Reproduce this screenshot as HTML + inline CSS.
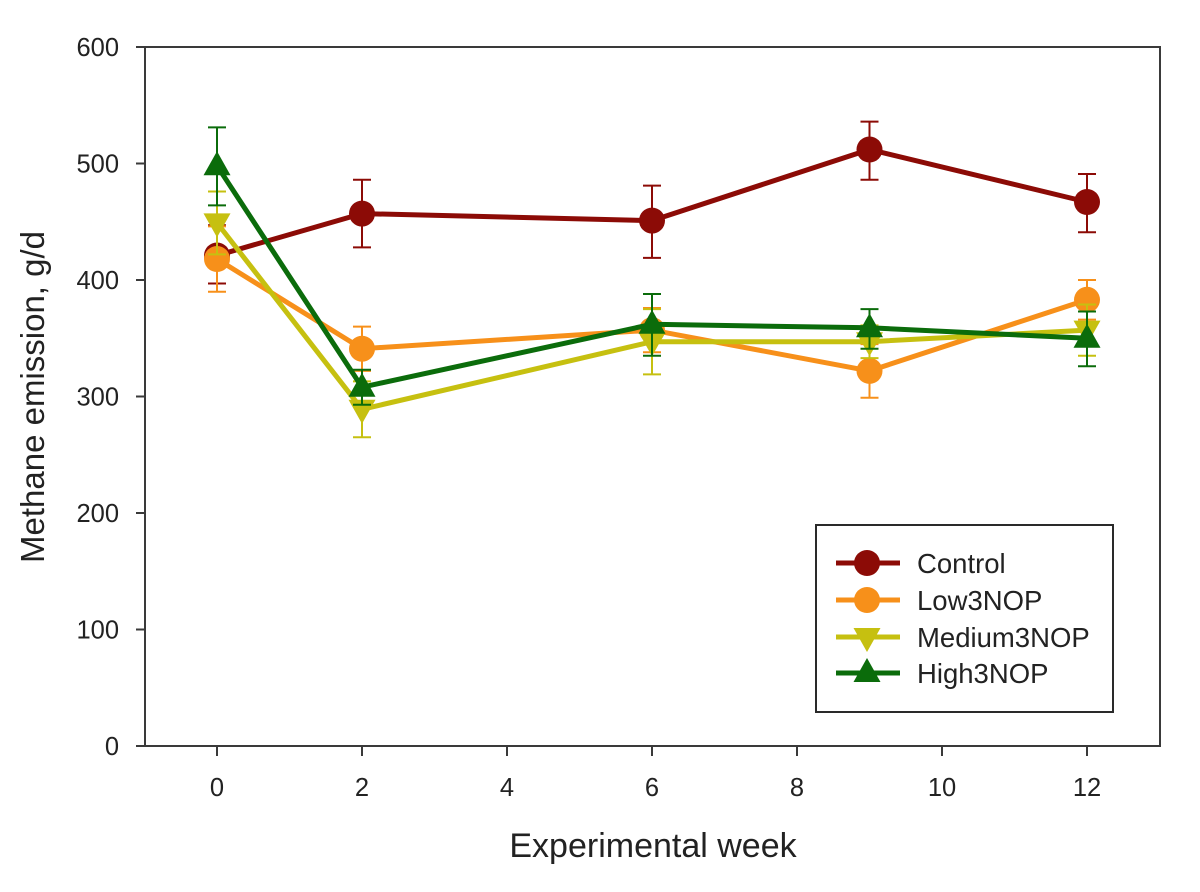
<!DOCTYPE html>
<html><head><meta charset="utf-8"><style>
html,body{margin:0;padding:0;background:#fff;}
svg{display:block;}
text{font-family:"Liberation Sans",Arial,sans-serif;fill:#222;}
</style></head><body>
<svg width="1200" height="892" viewBox="0 0 1200 892" xmlns="http://www.w3.org/2000/svg">
<rect x="0" y="0" width="1200" height="892" fill="#fff"/>
<!-- frame -->
<rect x="145" y="47" width="1015" height="699" fill="none" stroke="#3a3a3a" stroke-width="2"/>
<!-- ticks -->
<g stroke="#3a3a3a" stroke-width="2">
<line x1="136" y1="746" x2="145" y2="746"/><line x1="136" y1="629.5" x2="145" y2="629.5"/>
<line x1="136" y1="513" x2="145" y2="513"/><line x1="136" y1="396.5" x2="145" y2="396.5"/>
<line x1="136" y1="280" x2="145" y2="280"/><line x1="136" y1="163.5" x2="145" y2="163.5"/>
<line x1="136" y1="47" x2="145" y2="47"/>
<line x1="217" y1="746" x2="217" y2="756"/><line x1="362" y1="746" x2="362" y2="756"/>
<line x1="507" y1="746" x2="507" y2="756"/><line x1="652" y1="746" x2="652" y2="756"/>
<line x1="797" y1="746" x2="797" y2="756"/><line x1="942" y1="746" x2="942" y2="756"/>
<line x1="1087" y1="746" x2="1087" y2="756"/>
</g>
<g font-size="25.5" text-anchor="end">
<text x="119" y="755">0</text><text x="119" y="638.5">100</text><text x="119" y="522">200</text>
<text x="119" y="405.5">300</text><text x="119" y="289">400</text><text x="119" y="172.5">500</text>
<text x="119" y="56">600</text>
</g>
<g font-size="25.5" text-anchor="middle">
<text x="217" y="796">0</text><text x="362" y="796">2</text><text x="507" y="796">4</text>
<text x="652" y="796">6</text><text x="797" y="796">8</text><text x="942" y="796">10</text>
<text x="1087" y="796">12</text>
</g>
<text x="653" y="857" font-size="34" text-anchor="middle">Experimental week</text>
<text transform="translate(44,397) rotate(-90)" font-size="33" text-anchor="middle">Methane emission, g/d</text>

<!-- Control -->
<g stroke="#8c0b06" fill="#8c0b06">
<g stroke-width="2">
<line x1="217" y1="225.3" x2="217" y2="283.5"/><line x1="208" y1="283.5" x2="226" y2="283.5"/><line x1="208" y1="225.3" x2="226" y2="225.3"/>
<line x1="362" y1="179.8" x2="362" y2="247.4"/><line x1="353" y1="179.8" x2="371" y2="179.8"/><line x1="353" y1="247.4" x2="371" y2="247.4"/>
<line x1="652" y1="185.6" x2="652" y2="257.9"/><line x1="643" y1="185.6" x2="661" y2="185.6"/><line x1="643" y1="257.9" x2="661" y2="257.9"/>
<line x1="869.5" y1="121.6" x2="869.5" y2="179.8"/><line x1="860.5" y1="121.6" x2="878.5" y2="121.6"/><line x1="860.5" y1="179.8" x2="878.5" y2="179.8"/>
<line x1="1087" y1="174" x2="1087" y2="232.2"/><line x1="1078" y1="174" x2="1096" y2="174"/><line x1="1078" y1="232.2" x2="1096" y2="232.2"/>
</g>
<polyline fill="none" stroke-width="5" points="217,255.5 362,213.6 652,220.6 869.5,149.5 1087,202"/>
<g stroke="none"><circle cx="217" cy="255.5" r="13"/><circle cx="362" cy="213.6" r="13"/><circle cx="652" cy="220.6" r="13"/><circle cx="869.5" cy="149.5" r="13"/><circle cx="1087" cy="202" r="13"/></g>
</g>

<!-- Low3NOP -->
<g stroke="#f7901a" fill="#f7901a">
<g stroke-width="2">
<line x1="217" y1="226.4" x2="217" y2="291.7"/><line x1="208" y1="291.7" x2="226" y2="291.7"/><line x1="208" y1="226.4" x2="226" y2="226.4"/>
<line x1="362" y1="326.6" x2="362" y2="370.9"/><line x1="353" y1="326.6" x2="371" y2="326.6"/><line x1="353" y1="370.9" x2="371" y2="370.9"/>
<line x1="652" y1="308" x2="652" y2="352.2"/><line x1="643" y1="308" x2="661" y2="308"/><line x1="643" y1="352.2" x2="661" y2="352.2"/>
<line x1="869.5" y1="344.1" x2="869.5" y2="397.7"/><line x1="860.5" y1="344.1" x2="878.5" y2="344.1"/><line x1="860.5" y1="397.7" x2="878.5" y2="397.7"/>
<line x1="1087" y1="280" x2="1087" y2="319.6"/><line x1="1078" y1="280" x2="1096" y2="280"/><line x1="1078" y1="319.6" x2="1096" y2="319.6"/>
</g>
<polyline fill="none" stroke-width="5" points="217,259 362,348.7 652,330.1 869.5,370.9 1087,299.8"/>
<g stroke="none"><circle cx="217" cy="259" r="13"/><circle cx="362" cy="348.7" r="13"/><circle cx="652" cy="330.1" r="13"/><circle cx="869.5" cy="370.9" r="13"/><circle cx="1087" cy="299.8" r="13"/></g>
</g>

<!-- Medium3NOP -->
<g stroke="#c6c010" fill="#c6c010">
<g stroke-width="2">
<line x1="217" y1="191.5" x2="217" y2="254.4"/><line x1="208" y1="191.5" x2="226" y2="191.5"/><line x1="208" y1="254.4" x2="226" y2="254.4"/>
<line x1="362" y1="381.4" x2="362" y2="437.3"/><line x1="353" y1="381.4" x2="371" y2="381.4"/><line x1="353" y1="437.3" x2="371" y2="437.3"/>
<line x1="652" y1="309.1" x2="652" y2="374.4"/><line x1="643" y1="309.1" x2="661" y2="309.1"/><line x1="643" y1="374.4" x2="661" y2="374.4"/>
<line x1="869.5" y1="325.4" x2="869.5" y2="358.1"/><line x1="860.5" y1="325.4" x2="878.5" y2="325.4"/><line x1="860.5" y1="358.1" x2="878.5" y2="358.1"/>
<line x1="1087" y1="304.5" x2="1087" y2="355.7"/><line x1="1078" y1="304.5" x2="1096" y2="304.5"/><line x1="1078" y1="355.7" x2="1096" y2="355.7"/>
</g>
<polyline fill="none" stroke-width="5" points="217,222.9 362,409.3 652,341.7 869.5,341.7 1087,330.1"/>
<g stroke="none">
<polygon points="203.5,213.4 230.5,213.4 217,237.4"/>
<polygon points="348.5,399.8 375.5,399.8 362,423.8"/>
<polygon points="638.5,332.2 665.5,332.2 652,356.2"/>
<polygon points="856,332.2 883,332.2 869.5,356.2"/>
<polygon points="1073.5,320.6 1100.5,320.6 1087,344.6"/>
</g>
</g>

<!-- High3NOP -->
<g stroke="#0b6c0b" fill="#0b6c0b">
<g stroke-width="2">
<line x1="217" y1="127.4" x2="217" y2="205.4"/><line x1="208" y1="127.4" x2="226" y2="127.4"/><line x1="208" y1="205.4" x2="226" y2="205.4"/>
<line x1="362" y1="369.7" x2="362" y2="404.7"/><line x1="353" y1="369.7" x2="371" y2="369.7"/><line x1="353" y1="404.7" x2="371" y2="404.7"/>
<line x1="652" y1="294" x2="652" y2="355.7"/><line x1="643" y1="294" x2="661" y2="294"/><line x1="643" y1="355.7" x2="661" y2="355.7"/>
<line x1="869.5" y1="309.1" x2="869.5" y2="348.7"/><line x1="860.5" y1="309.1" x2="878.5" y2="309.1"/><line x1="860.5" y1="348.7" x2="878.5" y2="348.7"/>
<line x1="1087" y1="311.5" x2="1087" y2="366.2"/><line x1="1078" y1="311.5" x2="1096" y2="311.5"/><line x1="1078" y1="366.2" x2="1096" y2="366.2"/>
</g>
<polyline fill="none" stroke-width="5" points="217,165.8 362,387.2 652,324.3 869.5,327.8 1087,338.3"/>
<g stroke="none">
<polygon points="217,151.3 230.5,175.3 203.5,175.3"/>
<polygon points="362,372.7 375.5,396.7 348.5,396.7"/>
<polygon points="652,309.8 665.5,333.8 638.5,333.8"/>
<polygon points="869.5,313.3 883,337.3 856,337.3"/>
<polygon points="1087,323.8 1100.5,347.8 1073.5,347.8"/>
</g>
</g>

<!-- legend -->
<rect x="816" y="525" width="297" height="187" fill="#fff" stroke="#2a2a2a" stroke-width="2"/>
<g>
<line x1="836" y1="563" x2="900" y2="563" stroke="#8c0b06" stroke-width="5"/>
<circle cx="867" cy="563" r="13" fill="#8c0b06"/>
<line x1="836" y1="600" x2="900" y2="600" stroke="#f7901a" stroke-width="5"/>
<circle cx="867" cy="600" r="13" fill="#f7901a"/>
<line x1="836" y1="637" x2="900" y2="637" stroke="#c6c010" stroke-width="5"/>
<polygon points="853.5,628 880.5,628 867,652" fill="#c6c010"/>
<line x1="836" y1="673" x2="900" y2="673" stroke="#0b6c0b" stroke-width="5"/>
<polygon points="867,658 880.5,682 853.5,682" fill="#0b6c0b"/>
</g>
<g font-size="27.5">
<text x="917" y="573">Control</text>
<text x="917" y="610">Low3NOP</text>
<text x="917" y="647">Medium3NOP</text>
<text x="917" y="683">High3NOP</text>
</g>
</svg>
</body></html>
